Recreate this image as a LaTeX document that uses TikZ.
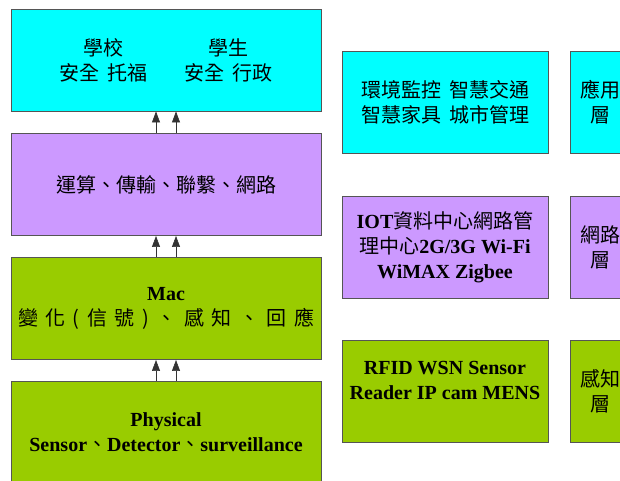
\documentclass[tikz,border=0pt]{standalone}
\usepackage{fontspec}
\setmainfont{Liberation Serif}
\newfontfamily\cjk{Noto Sans CJK TC}
\newcommand{\zh}[1]{{\cjk\mdseries #1}}
\usetikzlibrary{arrows.meta}
\definecolor{cy}{HTML}{00FFFF}
\definecolor{pu}{HTML}{CC99FF}
\definecolor{gr}{HTML}{99CC00}
\definecolor{bd}{HTML}{555555}
\tikzset{
  box/.style={draw=bd, line width=0.9pt, inner sep=0pt, align=center,
    font=\fontsize{20}{25}\selectfont\bfseries},
  wide/.style={box, minimum width=310pt, minimum height=102pt},
  mid/.style={box, minimum width=206pt, minimum height=102pt},
  narrow/.style={box, minimum width=60pt, minimum height=102pt},
  txt/.style={inner sep=0pt, align=center, font=\fontsize{20}{25}\selectfont\bfseries},
  arr/.style={draw=black!80, line width=0.6pt, -{Triangle[length=11pt,width=8pt]}}
}
\begin{document}
\begin{tikzpicture}[x=1pt,y=-1pt]
\useasboundingbox (0,0) rectangle (620,480);
% left column
\node[wide, fill=cy] (A) at (166,60) {};
\node[txt] (A1) at (103,60) {\zh{學校}\\\zh{安全\hspace{8pt}托福}};
\node[txt] (A2) at (228,60) {\zh{學生}\\\zh{安全\hspace{8pt}行政}};
\node[wide, fill=pu] (B) at (166,184.5) {\zh{運算、傳輸、聯繫、網路}};
\node[wide, fill=gr] (C) at (166,308.5) {Mac\\\zh{\makebox[296pt][s]{變 化 ( 信 號 ) 、 感 知 、 回 應}}};
\node[wide, fill=gr] (D) at (166,432.5) {Physical\\Sensor\zh{、}Detector\zh{、}surveillance};
\draw[arr] ([xshift=-10pt]B.north) -- ([xshift=-10pt]A.south);
\draw[arr] ([xshift=10pt]B.north) -- ([xshift=10pt]A.south);
\draw[arr] ([xshift=-10pt]C.north) -- ([xshift=-10pt]B.south);
\draw[arr] ([xshift=10pt]C.north) -- ([xshift=10pt]B.south);
\draw[arr] ([xshift=-10pt]D.north) -- ([xshift=-10pt]C.south);
\draw[arr] ([xshift=10pt]D.north) -- ([xshift=10pt]C.south);
% right columns
\node[mid, fill=cy] (E) at (445,102) {\zh{環境監控\hspace{8pt}智慧交通}\\\zh{智慧家具\hspace{8pt}城市管理}};
\node[narrow, fill=cy] (F) at (600,102) {\zh{應用}\\\zh{層}};
\node[mid, fill=pu] (G) at (445,247) {IOT\zh{資料中心網路管}\\\zh{理中心}2G/3G Wi-Fi\\WiMAX Zigbee};
\node[narrow, fill=pu] (H) at (600,247) {\zh{網路}\\\zh{層}};
\node[mid, fill=gr] (I) at (445,391) {};
\node[txt] (I1) at (445,380) {RFID WSN Sensor\\Reader IP cam MENS};
\node[narrow, fill=gr] (J) at (600,391) {\zh{感知}\\\zh{層}};
\end{tikzpicture}
\end{document}
